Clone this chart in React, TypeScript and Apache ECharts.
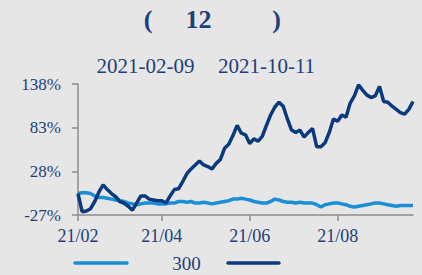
import React, { useEffect, useRef } from "react";
import * as echarts from "echarts";

const tickLabels = ["21/02", "21/04", "21/06", "21/08"];
const tickIndex = [0, 20, 41, 62];

const indexValues = [
  0, 1, 1, 0, -3, -5, -5, -6, -7, -8,
  -9, -10, -12, -13, -14, -13, -12, -12, -12, -13,
  -13, -13, -12, -12, -10, -10, -11, -10, -12, -12,
  -11, -12, -13, -12, -11, -10, -9, -7, -7, -6,
  -7, -8, -10, -11, -12, -12, -10, -7, -8, -10,
  -11, -11, -12, -11, -12, -12, -12, -14, -17, -14,
  -13, -12, -12, -13, -14, -16, -17, -16, -15, -14,
  -13, -12, -12, -13, -14, -15, -16, -15, -15, -15, -15,
];

const fundValues = [
  0, -23, -22, -19, -10, 2, 11, 5, 0, -4,
  -10, -12, -16, -21, -12, -3, -3, -7, -8, -9,
  -9, -12, -3, 5, 6, 15, 25, 31, 36, 41,
  36, 34, 31, 38, 43, 57, 62, 73, 86, 76,
  74, 63, 69, 66, 72, 86, 99, 109, 115, 110,
  94, 80, 77, 80, 71, 77, 82, 59, 59, 64,
  77, 94, 91, 99, 96, 114, 123, 137, 130, 124,
  121, 123, 135, 116, 115, 110, 106, 102, 100, 106, 116,
];

const categories = fundValues.map((_, i) => String(i));

const FONT = '"Liberation Serif", "Times New Roman", serif';
const TEXT = "#1d3f7c";
const AXIS = "#8c8c8c";
const LIGHT = "#1a8fd5";
const DARK = "#0b3a7c";

export default function App() {
  const ref = useRef<HTMLDivElement>(null);
  useEffect(() => {
    if (!ref.current) return;
    const chart = echarts.init(ref.current, null, { renderer: "svg" });
    const isTick = (i: number) => tickIndex.includes(i);
    chart.setOption({
      animation: false,
      backgroundColor: "#e6e6e6",
      grid: { left: 78, right: 9, top: 84, bottom: 60, containLabel: false },
      xAxis: {
        type: "category",
        data: categories,
        boundaryGap: false,
        axisLine: { onZero: false, lineStyle: { color: AXIS, width: 1.5 } },
        axisTick: { interval: isTick, length: 6, lineStyle: { color: AXIS, width: 1.5 } },
        axisLabel: {
          interval: isTick,
          margin: 12,
          color: TEXT,
          fontFamily: FONT,
          fontSize: 18,
          formatter: (_v: string, i: number) => tickLabels[tickIndex.indexOf(i)] ?? "",
        },
        splitLine: { show: false },
      },
      yAxis: {
        type: "value",
        min: -27,
        max: 138,
        interval: 55,
        axisLine: { show: true, onZero: false, lineStyle: { color: AXIS, width: 1.5 } },
        axisTick: { show: true, length: 6, lineStyle: { color: AXIS, width: 1.5 } },
        axisLabel: {
          margin: 17,
          color: TEXT,
          fontFamily: FONT,
          fontSize: 17,
          formatter: "{value}%",
        },
        splitLine: { show: false },
      },
      graphic: [
        { type: "text", x: 148, y: 19, style: { text: "(", fill: TEXT, font: `bold 26px ${FONT}`, textAlign: "center", textVerticalAlign: "middle" } },
        { type: "text", x: 198.5, y: 19, style: { text: "12", fill: TEXT, font: `bold 26px ${FONT}`, textAlign: "center", textVerticalAlign: "middle" } },
        { type: "text", x: 276.5, y: 19, style: { text: ")", fill: TEXT, font: `bold 26px ${FONT}`, textAlign: "center", textVerticalAlign: "middle" } },
        { type: "text", x: 145.5, y: 66, style: { text: "2021-02-09", fill: TEXT, font: `21px ${FONT}`, textAlign: "center", textVerticalAlign: "middle" } },
        { type: "text", x: 266.5, y: 66, style: { text: "2021-10-11", fill: TEXT, font: `21px ${FONT}`, textAlign: "center", textVerticalAlign: "middle" } },
        { type: "line", shape: { x1: 75, y1: 263, x2: 127, y2: 263 }, style: { stroke: LIGHT, lineWidth: 3.5, lineCap: "round" } },
        { type: "text", x: 186.5, y: 263, style: { text: "300", fill: TEXT, font: `19px ${FONT}`, textAlign: "center", textVerticalAlign: "middle" } },
        { type: "line", shape: { x1: 228, y1: 263, x2: 279, y2: 263 }, style: { stroke: DARK, lineWidth: 3.5, lineCap: "round" } },
      ],
      series: [
        {
          name: "300",
          type: "line",
          data: indexValues,
          symbol: "none",
          lineStyle: { color: LIGHT, width: 3.5 },
          itemStyle: { color: LIGHT },
        },
        {
          name: "fund",
          type: "line",
          data: fundValues,
          symbol: "none",
          lineStyle: { color: DARK, width: 3.5 },
          itemStyle: { color: DARK },
        },
      ],
    });
    return () => chart.dispose();
  }, []);
  return (
    <div
      ref={ref}
      style={{ position: "fixed", left: 0, top: 0, width: 422, height: 275 }}
    />
  );
}
